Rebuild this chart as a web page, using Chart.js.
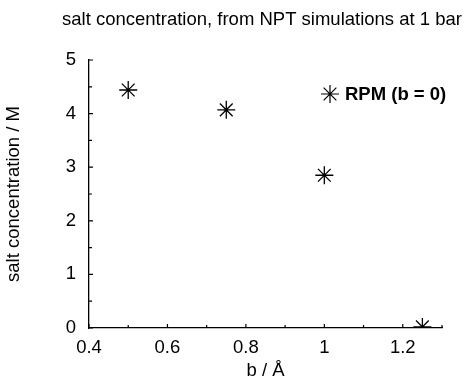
<!DOCTYPE html>
<html>
<head>
<meta charset="utf-8">
<script src="https://cdn.jsdelivr.net/npm/chart.js@4/dist/chart.umd.min.js"></script>
<style>
  html, body { margin: 0; padding: 0; background: #fff; }
  #wrap { width: 475px; height: 377px; position: relative; }
</style>
</head>
<body>
<div id="wrap"><canvas id="c" width="475" height="377"></canvas></div>
<script>
// ---- data ----
const bValues = [0.5, 0.75, 1.0, 1.25];
const saltConc = [4.44, 4.07, 2.85, 0.02];
const seriesLabel = 'RPM (b = 0)';
const xTickValues = [0.4, 0.6, 0.8, 1.0, 1.2];
const xMinorTicks = [0.5, 0.7, 0.9, 1.1, 1.3];
const yTickValues = [0, 1, 2, 3, 4, 5];
const yMinorTicks = [0.5, 1.5, 2.5, 3.5, 4.5];
const titleText = 'salt concentration, from NPT simulations at 1 bar';
const xTitle = 'b / Å';
const yTitle = 'salt concentration / M';

const FONT = '"Liberation Sans", Arial, Helvetica, sans-serif';
const FS = 18.5;

const decorations = {
  id: 'decorations',
  afterDraw(chart) {
    const ctx = chart.ctx;
    const xs = chart.scales.x, ys = chart.scales.y;
    const ca = chart.chartArea;
    ctx.save();
    // title
    ctx.fillStyle = '#000';
    ctx.font = FS + 'px ' + FONT;
    ctx.textBaseline = 'middle';
    ctx.textAlign = 'center';
    ctx.fillText(titleText, 262, 20);
    // inward ticks
    ctx.strokeStyle = '#000';
    ctx.lineWidth = 1.2;
    ctx.beginPath();
    xTickValues.forEach(v => { const p = xs.getPixelForValue(v); ctx.moveTo(p, ca.bottom); ctx.lineTo(p, ca.bottom - 4); });
    xMinorTicks.forEach(v => { const p = xs.getPixelForValue(v); ctx.moveTo(p, ca.bottom); ctx.lineTo(p, ca.bottom - 3); });
    yTickValues.forEach(v => { const p = ys.getPixelForValue(v); ctx.moveTo(ca.left, p); ctx.lineTo(ca.left + 4, p); });
    yMinorTicks.forEach(v => { const p = ys.getPixelForValue(v); ctx.moveTo(ca.left, p); ctx.lineTo(ca.left + 3, p); });
    ctx.stroke();
    // legend inside plot
    const ds = chart.data.datasets[0];
    Chart.helpers.drawPoint(ctx, { pointStyle: 'star', radius: 9, borderWidth: 1.3 }, 330, 94);
    ctx.font = 'bold ' + FS + 'px ' + FONT;
    ctx.textAlign = 'left';
    ctx.fillText(ds.label, 345, 95);
    ctx.restore();
  }
};

new Chart(document.getElementById('c'), {
  type: 'scatter',
  data: {
    datasets: [{
      label: seriesLabel,
      data: bValues.map((b, i) => ({ x: b, y: saltConc[i] })),
      pointStyle: 'star',
      pointRadius: 9,
      pointHoverRadius: 9,
      borderColor: '#000',
      backgroundColor: '#000',
      pointBorderWidth: 1.3,
      showLine: false
    }]
  },
  options: {
    responsive: false,
    animation: false,
    devicePixelRatio: 1,
    layout: { padding: { left: 0, right: 33, top: 60, bottom: 0 } },
    plugins: {
      legend: { display: false },
      tooltip: { enabled: false },
      title: { display: false }
    },
    scales: {
      x: {
        type: 'linear',
        min: 0.4, max: 1.3,
        afterFit(s) { s.height = 49; },
        afterBuildTicks(s) { s.ticks = xTickValues.map(v => ({ value: v })); },
        grid: { display: false, drawTicks: false },
        border: { display: true, color: '#000', width: 1.3 },
        ticks: {
          color: '#000', padding: 8.5, maxRotation: 0, autoSkip: false,
          font: { family: FONT, size: FS },
          callback: v => String(Math.round(v * 10) / 10)
        },
        title: {
          display: true, text: xTitle, color: '#000',
          font: { family: FONT, size: FS, lineHeight: 1 },
          padding: { top: 0, bottom: -3 }
        }
      },
      y: {
        type: 'linear',
        min: 0, max: 5,
        afterFit(s) { s.width = 89; },
        afterBuildTicks(s) { s.ticks = yTickValues.map(v => ({ value: v })); },
        grid: { display: false, drawTicks: false },
        border: { display: true, color: '#000', width: 1.3 },
        ticks: {
          color: '#000', padding: 13, autoSkip: false,
          font: { family: FONT, size: FS },
          callback: v => String(v)
        },
        title: {
          display: true, text: yTitle, color: '#000',
          font: { family: FONT, size: FS, lineHeight: 1.2 },
          padding: { top: 3, bottom: 0 }
        }
      }
    }
  },
  plugins: [decorations]
});
</script>
</body>
</html>
